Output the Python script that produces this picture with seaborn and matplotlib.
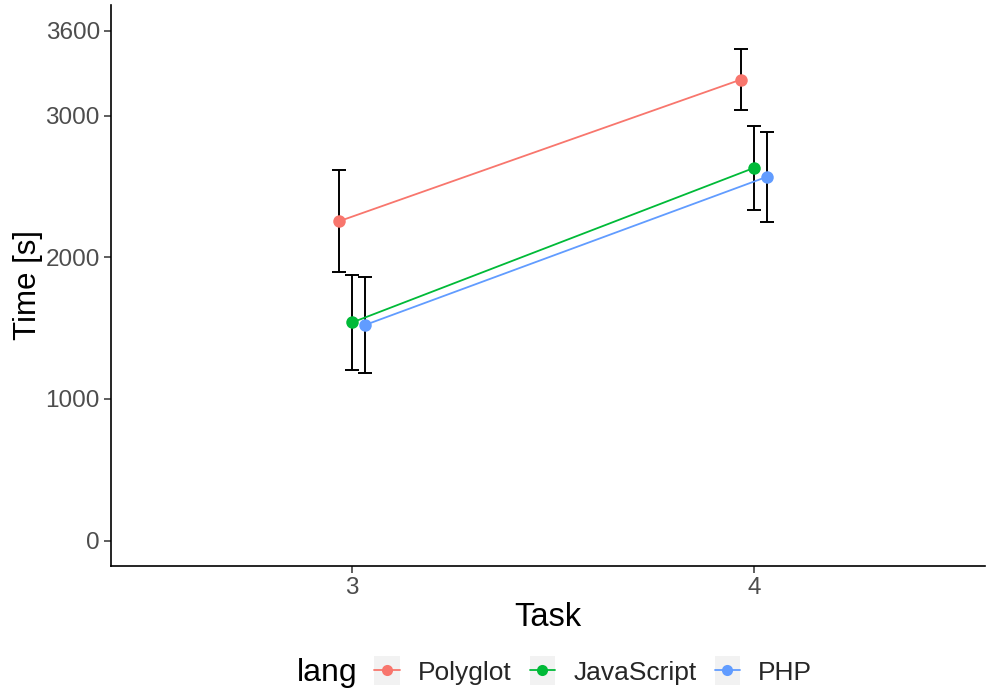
import numpy as np
import pandas as pd
import matplotlib
matplotlib.use("Agg")
import matplotlib.pyplot as plt
from matplotlib.lines import Line2D
from matplotlib.patches import Rectangle
from matplotlib.legend_handler import HandlerLine2D
import seaborn as sns

# Mean completion time per task and language, with standard errors
tasks = [3, 4]
langs = ["Polyglot", "JavaScript", "PHP"]
polyglot_time = [2254, 3254]
polyglot_se = [359, 218]
javascript_time = [1539, 2630]
javascript_se = [334, 299]
php_time = [1521, 2567]
php_se = [338, 320]
y_ticks = [0, 1000, 2000, 3000, 3600]

colors = ["#F8766D", "#00BA38", "#619CFF"]

means = [polyglot_time, javascript_time, php_time]
ses = [polyglot_se, javascript_se, php_se]
dodge = 0.032
rows = []
for i, lang in enumerate(langs):
    for j, task in enumerate(tasks):
        rows.append({"lang": lang, "task": task,
                     "x": task + (i - 1) * dodge,
                     "time": means[i][j], "se": ses[i][j]})
df = pd.DataFrame(rows)

sns.set_theme(style="white")
plt.rcParams["font.family"] = ["Liberation Sans", "DejaVu Sans"]

fig = plt.figure(figsize=(9.86, 6.92), dpi=100)
ax = fig.add_axes([111 / 986, 1 - 566 / 692, 874 / 986, 561 / 692])

# error bars under the lines and points
ax.errorbar(df["x"], df["time"], yerr=df["se"], fmt="none", ecolor="black",
            elinewidth=1.4, capsize=4.8, capthick=1.4, zorder=1)

sns.lineplot(data=df, x="x", y="time", hue="lang", hue_order=langs,
             palette=colors, marker="o", markersize=9, markeredgewidth=0,
             linewidth=1.3, legend=False, ax=ax, zorder=3)

ax.set_xlim(2.4, 4.575)
ax.set_ylim(-180, 3780)
ax.set_xticks(tasks)
ax.set_xticklabels([str(t) for t in tasks])
ax.set_yticks(y_ticks)
ax.set_yticklabels([str(t) for t in y_ticks])

for side in ["top", "right"]:
    ax.spines[side].set_visible(False)
for side in ["left", "bottom"]:
    ax.spines[side].set_color("black")
    ax.spines[side].set_linewidth(1.2)

ax.tick_params(axis="both", which="both", length=5, width=1.1, color="#333333",
               labelsize=17.5, labelcolor="#4D4D4D", pad=3,
               left=True, bottom=True)
ax.set_xlabel("Task", fontsize=23.5, color="black", labelpad=2)
ax.set_ylabel("Time [s]", fontsize=22.5, color="black", labelpad=2)


class KeyHandler(HandlerLine2D):
    def create_artists(self, legend, orig_handle, xdescent, ydescent,
                       width, height, fontsize, trans):
        bg = Rectangle((-xdescent, -ydescent - 2), width, height + 4,
                       facecolor="#F2F2F2", edgecolor="none", transform=trans)
        arts = super().create_artists(legend, orig_handle, xdescent, ydescent,
                                      width, height, fontsize, trans)
        return [bg] + list(arts)


handles = [Line2D([], [], color=c, marker="o", markersize=8,
                  markeredgewidth=0, linewidth=1.3) for c in colors]
fig.text(297 / 986, 1 - 673 / 692, "lang", fontsize=23, color="black",
         ha="left", va="center")
leg = fig.legend(handles, langs, loc="center left",
                 bbox_to_anchor=(374 / 986, 1 - 672 / 692), ncol=3,
                 frameon=False, fontsize=19, handlelength=0.98,
                 handleheight=0.98, handletextpad=0.68, columnspacing=0.68,
                 borderpad=0, borderaxespad=0,
                 handler_map={Line2D: KeyHandler()})

fig.savefig("out.png", dpi=100)
